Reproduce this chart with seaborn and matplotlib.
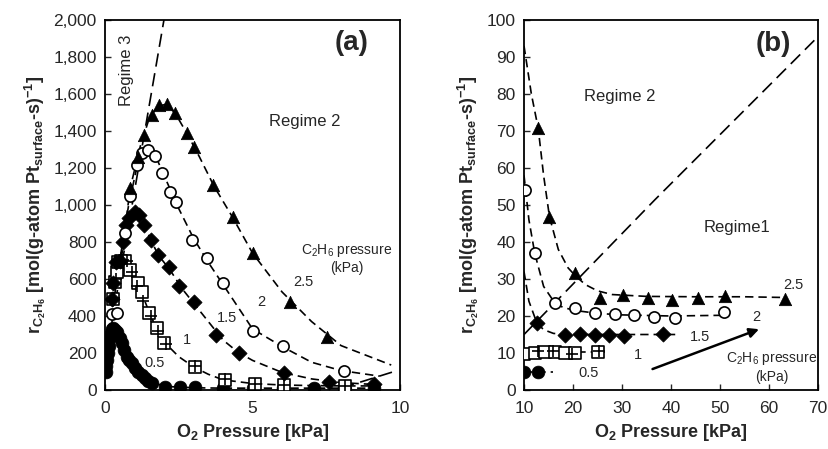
import matplotlib
matplotlib.use("Agg")
import matplotlib.pyplot as plt
import matplotlib.ticker as mticker
import seaborn as sns

# ---- panel (a): rate vs O2 pressure, low O2 (kPa) ----
tri25_x = [0.85, 1.13, 1.33, 1.60, 1.84, 2.11, 2.37, 2.77, 3.03, 3.67, 4.33, 5.00, 6.27, 7.54]
tri25_y = [1092, 1261, 1378, 1486, 1540, 1546, 1496, 1388, 1315, 1108, 937, 739, 477, 288]
circ2_x = [0.23, 0.40, 0.68, 0.85, 1.07, 1.24, 1.47, 1.69, 1.92, 2.20, 2.41, 2.94, 3.47, 4.00, 5.03, 6.04, 8.10]
circ2_y = [410, 414, 847, 1050, 1216, 1279, 1297, 1265, 1171, 1072, 1018, 811, 712, 577, 319, 240, 104]
dia15_x = [0.23, 0.28, 0.38, 0.50, 0.60, 0.71, 0.82, 1.02, 1.16, 1.33, 1.55, 1.81, 2.18, 2.52, 3.03, 3.76, 4.55, 6.07, 7.60, 9.12]
dia15_y = [490, 577, 690, 700, 802, 892, 928, 964, 946, 892, 811, 730, 667, 562, 477, 297, 198, 90, 45, 32]
sq1_x = [0.28, 0.34, 0.40, 0.45, 0.55, 0.68, 0.85, 1.13, 1.24, 1.50, 1.75, 2.00, 3.05, 4.07, 5.08, 6.05, 8.14]
sq1_y = [490, 586, 640, 690, 700, 700, 649, 577, 532, 414, 333, 256, 126, 54, 32, 25, 22]
plus1_x = [0.30, 0.38, 0.50, 0.62, 0.75, 0.90, 1.10, 1.30, 1.55, 1.80, 2.05, 3.05, 4.07, 5.08, 6.05, 8.14]
plus1_y = [500, 600, 690, 705, 700, 640, 560, 480, 400, 320, 250, 130, 60, 35, 28, 24]
dot05_x = [0.02, 0.04, 0.06, 0.09, 0.12, 0.15, 0.19, 0.23, 0.28, 0.34, 0.40, 0.50, 0.57, 0.65, 0.73, 0.82,
           0.90, 1.00, 1.13, 1.25, 1.36, 1.47, 1.58, 2.03, 2.54, 3.05, 4.00, 5.03, 6.04, 7.08, 8.10, 9.12]
dot05_y = [100, 130, 160, 200, 240, 280, 310, 330, 335, 325, 315, 280, 252, 215, 180, 160,
           144, 120, 99, 80, 63, 50, 40, 18, 14, 14, 9, 9, 9, 9, 10, 10]

# fitted (dashed) curves
fit25_x = [0.5, 0.85, 1.2, 1.5, 1.8, 2.1, 2.4, 2.8, 3.2, 3.7, 4.3, 5.0, 6.0, 7.0, 8.0, 9.7]
fit25_y = [640, 1090, 1320, 1470, 1535, 1545, 1490, 1380, 1260, 1100, 940, 740, 530, 370, 240, 135]
fit2_x = [0.2, 0.5, 0.8, 1.1, 1.4, 1.7, 2.0, 2.5, 3.0, 3.5, 4.0, 5.0, 6.0, 7.0, 8.0, 9.3]
fit2_y = [380, 700, 1000, 1220, 1295, 1270, 1160, 980, 820, 690, 570, 330, 235, 150, 105, 75]
fit15_x = [0.5, 0.7, 0.9, 1.05, 1.2, 1.5, 1.8, 2.2, 2.6, 3.0, 3.5, 4.0, 4.5, 5.0, 6.0, 7.0, 8.0, 9.1]
fit15_y = [700, 880, 950, 965, 940, 830, 730, 650, 550, 470, 370, 270, 205, 160, 95, 60, 40, 30]
fit1_x = [0.2, 0.4, 0.6, 0.75, 0.9, 1.1, 1.3, 1.5, 1.75, 2.0, 2.5, 3.0, 3.5, 4.0, 5.0, 6.0, 7.0, 8.1, 9.0]
fit1_y = [480, 640, 700, 705, 670, 590, 500, 420, 330, 260, 180, 125, 85, 55, 35, 27, 24, 22, 22]
fit05_x = [0.0, 0.1, 0.2, 0.28, 0.4, 0.6, 0.9, 1.2, 1.5, 2.0, 3.0, 4.0, 6.0, 9.1]
fit05_y = [100, 220, 320, 340, 310, 240, 145, 85, 50, 20, 12, 10, 10, 10]
reg3_x = [0.0, 2.05]
reg3_y = [150, 2050]
reg1a_x = [8.0, 9.8]
reg1a_y = [10, 100]

# ---- panel (b): rate vs O2 pressure, high O2 (kPa) ----
tri_b_x = [12.9, 15.2, 20.4, 25.5, 30.3, 35.4, 40.3, 45.6, 51.0, 63.3]
tri_b_y = [70.7, 46.8, 31.7, 25.0, 25.7, 24.8, 24.3, 24.8, 25.4, 24.6]
circ_b_x = [10.2, 12.2, 16.3, 20.4, 24.5, 28.6, 32.4, 36.6, 40.8, 50.9]
circ_b_y = [54.0, 36.9, 23.4, 22.1, 20.9, 20.5, 20.4, 19.8, 19.4, 21.2]
dia_b_x = [12.6, 18.4, 21.4, 24.4, 27.4, 30.5, 38.3]
dia_b_y = [18.2, 14.9, 15.1, 14.9, 15.0, 14.6, 15.1]
sq_b_x = [9.9, 12.2, 14.3, 16.3, 18.4, 20.4, 25.2]
sq_b_y = [9.7, 10.1, 10.2, 10.2, 10.1, 10.1, 10.4]
plus_b_x = [12.9, 16.0, 19.8, 25.3]
plus_b_y = [10.5, 10.6, 9.8, 10.5]
dot_b_x = [9.9, 12.9]
dot_b_y = [5.0, 5.0]

fitb25_x = [10, 11.5, 12.9, 14, 15.2, 17, 19, 20.4, 22.5, 25, 28, 35, 45, 55, 63.3]
fitb25_y = [93, 80, 70.7, 58, 46.8, 38, 33, 31, 28.5, 26.8, 25.8, 25.3, 25.2, 25.2, 25.0]
fitb2_x = [10, 11, 12.2, 14, 16.3, 18, 20.4, 25, 30, 40, 51]
fitb2_y = [58, 46, 36.9, 28, 23.5, 22.3, 21.5, 20.7, 20.3, 20.0, 20.2]
fitb15_x = [10, 11, 12.6, 14, 16, 18.4, 25, 30, 38.3, 41.5]
fitb15_y = [32, 24, 18.2, 16.3, 15.3, 15.0, 15.0, 15.0, 15.0, 15.0]
fitb1_x = [10, 26.5]
fitb1_y = [10.3, 10.3]
fitb05_x = [10, 16]
fitb05_y = [5, 5]
reg_b_x = [10, 36.7, 70]
reg_b_y = [15, 51.4, 95.5]

sns.set_style("ticks")
plt.rcParams["font.family"] = ["Liberation Sans", "DejaVu Sans"]
plt.rcParams["mathtext.fontset"] = "custom"
plt.rcParams["mathtext.rm"] = "Liberation Sans"
plt.rcParams["mathtext.bf"] = "Liberation Sans:bold"
plt.rcParams["mathtext.it"] = "Liberation Sans:italic"
plt.rcParams["xtick.direction"] = "in"
plt.rcParams["ytick.direction"] = "in"

fig = plt.figure(figsize=(8.29, 4.49), dpi=100)
ax1 = fig.add_axes([0.1267, 0.1314, 0.3559, 0.824])
ax2 = fig.add_axes([0.6321, 0.1314, 0.3546, 0.824])

dash = (0, (5, 3))
longdash = (0, (8, 4))
ms_big = 80


def curve(ax, x, y, ls=dash):
    sns.lineplot(x=x, y=y, ax=ax, color="k", linestyle=ls, lw=1.2,
                 sort=False, estimator=None, legend=False)


def points(ax, x, y, marker, filled=True, s=ms_big):
    if marker == "+":
        sns.scatterplot(x=x, y=y, ax=ax, marker="+", color="k", s=s,
                        linewidth=1.2, legend=False, zorder=4)
    elif filled:
        sns.scatterplot(x=x, y=y, ax=ax, marker=marker, color="k", s=s,
                        edgecolor="k", linewidth=0.5, legend=False, zorder=3)
    else:
        sns.scatterplot(x=x, y=y, ax=ax, marker=marker, facecolor="white", s=s,
                        edgecolor="k", linewidth=1.2, legend=False, zorder=3)


# panel (a)
for fx, fy in [(fit25_x, fit25_y), (fit2_x, fit2_y), (fit15_x, fit15_y),
               (fit1_x, fit1_y), (fit05_x, fit05_y)]:
    curve(ax1, fx, fy)
curve(ax1, reg3_x, reg3_y, longdash)
curve(ax1, reg1a_x, reg1a_y, longdash)
points(ax1, dot05_x, dot05_y, "o", s=85)
points(ax1, sq1_x, sq1_y, "s", filled=False, s=65)
points(ax1, plus1_x, plus1_y, "+", s=85)
points(ax1, dia15_x, dia15_y, "D", s=60)
points(ax1, circ2_x, circ2_y, "o", filled=False, s=65)
points(ax1, tri25_x, tri25_y, "^", s=ms_big)

ax1.set_xlim(0, 10)
ax1.set_ylim(0, 2000)
ax1.set_xticks([0, 5, 10])
ax1.set_yticks(range(0, 2001, 200))
ax1.yaxis.set_major_formatter(mticker.StrMethodFormatter("{x:,.0f}"))

ax1.text(8.36, 1878, "(a)", fontsize=20, fontweight="bold", ha="center", va="center")
ax1.text(0.73, 1730, "Regime 3", fontsize=12, rotation=90, ha="center", va="center")
ax1.text(6.78, 1450, "Regime 2", fontsize=12, ha="center", va="center")
ax1.text(8.19, 710, "C$_2$H$_6$ pressure\n(kPa)", fontsize=10, ha="center", va="center")
for lx, ly, lab in [(6.72, 586, "2.5"), (5.28, 477, "2"), (4.12, 387, "1.5"),
                    (2.77, 270, "1"), (1.69, 148, "0.5")]:
    ax1.text(lx, ly, lab, fontsize=10.5, ha="center", va="center")

# panel (b)
for fx, fy in [(fitb25_x, fitb25_y), (fitb2_x, fitb2_y), (fitb15_x, fitb15_y),
               (fitb1_x, fitb1_y), (fitb05_x, fitb05_y)]:
    curve(ax2, fx, fy)
curve(ax2, reg_b_x, reg_b_y, longdash)
points(ax2, dot_b_x, dot_b_y, "o", s=85)
points(ax2, sq_b_x, sq_b_y, "s", filled=False, s=65)
points(ax2, plus_b_x, plus_b_y, "+", s=85)
points(ax2, dia_b_x, dia_b_y, "D", s=60)
points(ax2, circ_b_x, circ_b_y, "o", filled=False, s=65)
points(ax2, tri_b_x, tri_b_y, "^", s=ms_big)

ax2.set_xlim(10, 70)
ax2.set_ylim(0, 100)
ax2.set_xticks(range(10, 71, 10))
ax2.set_yticks(range(0, 101, 10))

ax2.text(60.9, 93.5, "(b)", fontsize=20, fontweight="bold", ha="center", va="center")
ax2.text(29.6, 79.2, "Regime 2", fontsize=12, ha="center", va="center")
ax2.text(53.5, 44, "Regime1", fontsize=12, ha="center", va="center")
ax2.text(60.5, 6.2, "C$_2$H$_6$ pressure\n(kPa)", fontsize=10, ha="center", va="center")
for lx, ly, lab in [(64.9, 28.4, "2.5"), (57.5, 19.8, "2"), (45.9, 14.4, "1.5"),
                    (33.3, 9.5, "1"), (23.1, 4.5, "0.5")]:
    ax2.text(lx, ly, lab, fontsize=10.5, ha="center", va="center")
ax2.annotate("", xy=(58.5, 16.7), xytext=(35.7, 5.4),
             arrowprops=dict(arrowstyle="-|>", color="k", lw=1.8, mutation_scale=14))

ylab = r"r$_{\mathbf{C_2H_6}}$ [mol(g-atom Pt$_{\mathbf{surface}}$-s)$^{\mathbf{-1}}$]"
for ax in (ax1, ax2):
    ax.set_xlabel(r"O$_{\mathbf{2}}$ Pressure [kPa]", fontsize=13, fontweight="bold", labelpad=4)
    ax.set_ylabel(ylab, fontsize=13, fontweight="bold", labelpad=4)
    ax.tick_params(labelsize=12.5, length=4, width=1, top=False, right=False)
    ax.tick_params(axis="x", pad=8)
    ax.tick_params(axis="y", pad=6)
    for sp in ax.spines.values():
        sp.set_visible(True)
        sp.set_linewidth(1.3)
        sp.set_color("k")

fig.savefig("out.png", dpi=100)
